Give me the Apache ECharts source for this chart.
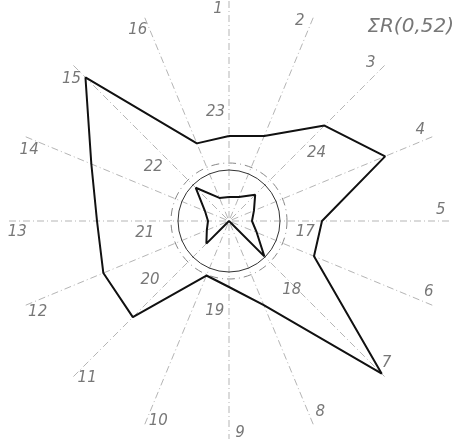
<!DOCTYPE html>
<html>
<head>
<meta charset="utf-8">
<script src="https://cdn.jsdelivr.net/npm/echarts@6/dist/echarts.min.js"></script>
<style>
  html, body { margin: 0; padding: 0; background: #fff; }
  #chart { width: 452px; height: 439px; }
</style>
</head>
<body>
<div id="chart"></div>
<script>
// 16 outer directions, clockwise from the top
const directions = ['1','2','3','4','5','6','7','8','9','10','11','12','13','14','15','16'];
// Outer contour radius per direction
const outerValues = [85, 92, 135, 169, 93, 92, 216, 91, 66, 59, 136, 136, 132, 149, 203, 84];
// Inner star radius per direction
const innerValues = [24, 26, 37, 27, 23, 30, 50, 0, 0, 0, 32, 24, 21, 26, 47, 25];
// Inner reference tags with their bearing (deg) and radius
const innerTags = ['17','18','19','20','21','22','23','24'];
const innerTagBearing = [98, 137.6, 189, 233, 262, 305.4, 353, 52];
const innerTagRadius = [77, 93, 91, 99, 85, 93, 110, 111];
const titleText = 'ΣR(0,52)';

const STEP = 360 / directions.length;
const CENTER = [229, 221];
const R_MAX = 220;
// direction numbers are written just left of their rays, near the rim
const LABEL_RADIUS = 212;
const LABEL_TURN = -3;

function closedRing(values) {
  const pts = values.map((v, i) => [v, i * STEP]);
  pts.push([values[0], 0]);
  return pts;
}

const FONT = 'DejaVu Sans';
const TEXT_COLOR = '#555';

const labelStyle = {
  show: true,
  position: 'inside',
  formatter: (p) => p.name,
  fontFamily: FONT,
  fontStyle: 'italic',
  fontSize: 15,
  color: TEXT_COLOR
};

const chart = echarts.init(document.getElementById('chart'), null, { renderer: 'canvas' });

chart.setOption({
  backgroundColor: '#fff',
  animation: false,
  title: {
    text: titleText,
    right: -7,
    top: 12,
    textStyle: { fontFamily: FONT, fontStyle: 'italic', fontWeight: 'normal', fontSize: 20, color: '#777' }
  },
  polar: [
    { center: CENTER, radius: R_MAX },
    { center: CENTER, radius: 51 },
    { center: CENTER, radius: 58 }
  ],
  angleAxis: [
    {
      polarIndex: 0,
      type: 'value',
      min: 0,
      max: 360,
      interval: STEP,
      startAngle: 90,
      clockwise: true,
      axisLine: { show: false },
      axisTick: { show: false },
      axisLabel: { show: false },
      splitLine: {
        show: true,
        lineStyle: { color: '#b5b5b5', width: 1, type: [7, 3, 1, 3] }
      }
    },
    {
      polarIndex: 1,
      type: 'value', min: 0, max: 360, startAngle: 90,
      axisLine: { show: true, lineStyle: { color: '#333', width: 1 } },
      axisTick: { show: false }, axisLabel: { show: false }, splitLine: { show: false }
    },
    {
      polarIndex: 2,
      type: 'value', min: 0, max: 360, startAngle: 90,
      axisLine: { show: true, lineStyle: { color: '#888', width: 1, type: [8, 4, 1, 4] } },
      axisTick: { show: false }, axisLabel: { show: false }, splitLine: { show: false }
    }
  ],
  radiusAxis: [
    { polarIndex: 0, type: 'value', min: 0, max: R_MAX, show: false },
    { polarIndex: 1, type: 'value', min: 0, max: 1, show: false },
    { polarIndex: 2, type: 'value', min: 0, max: 1, show: false }
  ],
  series: [
    {
      name: 'outer',
      type: 'line',
      coordinateSystem: 'polar',
      polarIndex: 0,
      data: closedRing(outerValues),
      symbol: 'none',
      clip: false,
      lineStyle: { color: '#111', width: 2 }
    },
    {
      name: 'inner',
      type: 'line',
      coordinateSystem: 'polar',
      polarIndex: 0,
      data: closedRing(innerValues),
      symbol: 'none',
      clip: false,
      lineStyle: { color: '#111', width: 2 }
    },
    {
      name: 'directions',
      type: 'scatter',
      coordinateSystem: 'polar',
      polarIndex: 0,
      symbolSize: 1,
      itemStyle: { color: 'rgba(0,0,0,0)' },
      data: directions.map((d, i) => ({
        name: d,
        value: [LABEL_RADIUS, (i * STEP + LABEL_TURN + 360) % 360]
      })),
      label: labelStyle
    },
    {
      name: 'tags',
      type: 'scatter',
      coordinateSystem: 'polar',
      polarIndex: 0,
      symbolSize: 1,
      itemStyle: { color: 'rgba(0,0,0,0)' },
      data: innerTags.map((t, i) => ({ name: t, value: [innerTagRadius[i], innerTagBearing[i]] })),
      label: labelStyle
    }
  ]
});
</script>
</body>
</html>
